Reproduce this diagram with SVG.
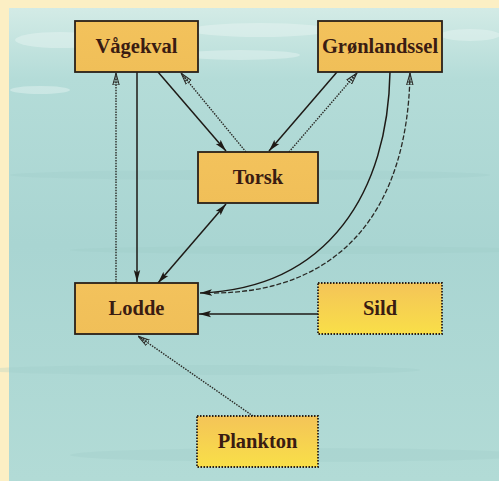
<svg xmlns="http://www.w3.org/2000/svg" width="499" height="481" viewBox="0 0 499 481">
<defs>
<linearGradient id="sea" x1="0" y1="0" x2="0" y2="1">
<stop offset="0" stop-color="#d3ebe6"/>
<stop offset="0.15" stop-color="#b4dcd8"/>
<stop offset="0.5" stop-color="#a9d5d2"/>
<stop offset="1" stop-color="#b2dbd6"/>
</linearGradient>
<linearGradient id="boxfill" x1="0" y1="0" x2="0" y2="1">
<stop offset="0" stop-color="#f3c25c"/>
<stop offset="1" stop-color="#f0bf58"/>
</linearGradient>
<linearGradient id="yelfill" x1="0" y1="0" x2="0" y2="1">
<stop offset="0" stop-color="#f4c458"/>
<stop offset="1" stop-color="#f9df48"/>
</linearGradient>
<marker id="solid" viewBox="0 0 12 8" refX="12" refY="4" markerWidth="12" markerHeight="8" markerUnits="userSpaceOnUse" orient="auto">
<path d="M0,0.8 L12,4 L0,7.2 L2.5,4 Z" fill="#1e1a16"/>
</marker>
<marker id="solidStart" viewBox="0 0 12 8" refX="0" refY="4" markerWidth="12" markerHeight="8" markerUnits="userSpaceOnUse" orient="auto">
<path d="M12,0.8 L0,4 L12,7.2 L9.5,4 Z" fill="#1e1a16"/>
</marker>
<marker id="hatch" viewBox="0 0 12 8" refX="12" refY="4" markerWidth="12" markerHeight="8" markerUnits="userSpaceOnUse" orient="auto">
<path d="M0,0.8 L12,4 L0,7.2 Z" fill="none" stroke="#2a2a26" stroke-width="1"/>
<path d="M3,1.6 L3,6.4 M6,2.4 L6,5.6 M9,3.2 L9,4.8" stroke="#2a2a26" stroke-width="1"/>
</marker>
<style>
.box{stroke:#2a2018;stroke-width:1.8}
.dotbox{stroke:#2a2018;stroke-width:1.8;stroke-dasharray:1.5 1.5}
.lbl{font-family:"Liberation Serif","DejaVu Serif",serif;font-weight:bold;font-size:20.5px;fill:#3a1c12;text-anchor:middle;dominant-baseline:central}
.s{fill:none;stroke:#1e1a16;stroke-width:1.5}
.d{fill:none;stroke:#2a2a26;stroke-width:1.4;stroke-dasharray:1.5 1.2}
.dash{fill:none;stroke:#2a2a26;stroke-width:1.3;stroke-dasharray:5 2}
</style>
</defs>
<rect x="0" y="0" width="499" height="481" fill="#fcefc4"/>
<rect x="9" y="8" width="490" height="473" fill="url(#sea)"/>
<g opacity="0.4" fill="#eef8f6">
<ellipse cx="60" cy="40" rx="45" ry="8"/>
<ellipse cx="260" cy="30" rx="70" ry="7"/>
<ellipse cx="240" cy="55" rx="60" ry="5"/>
<ellipse cx="470" cy="35" rx="30" ry="6"/>
<ellipse cx="40" cy="90" rx="30" ry="4"/>
</g>
<g opacity="0.25" fill="#9ccac6">
<ellipse cx="250" cy="175" rx="240" ry="5"/>
<ellipse cx="300" cy="250" rx="230" ry="4"/>
<ellipse cx="200" cy="370" rx="220" ry="5"/>
<ellipse cx="300" cy="455" rx="230" ry="7"/>
</g>
<g id="connectors">
<path class="s" d="M137,72 L137,282" marker-end="url(#solid)"/>
<path class="d" d="M116,283 L116,73" marker-end="url(#hatch)"/>
<path class="s" d="M158,72 L226,151" marker-end="url(#solid)"/>
<path class="d" d="M246,152 L181,73" marker-end="url(#hatch)"/>
<path class="s" d="M337,72 L269,151" marker-end="url(#solid)"/>
<path class="d" d="M289,152 L357,73" marker-end="url(#hatch)"/>
<path class="s" d="M390,72 C388,190 330,288 200,293" marker-end="url(#solid)"/>
<path class="dash" d="M214,293 C345,292 408,205 410,73" marker-end="url(#hatch)"/>
<path class="s" d="M158,283 L226,204" marker-start="url(#solidStart)" marker-end="url(#solid)"/>
<path class="s" d="M318,314 L199,314" marker-end="url(#solid)"/>
<path class="d" d="M253,416 L138,336" marker-end="url(#hatch)"/>
</g>
<g id="vagekval">
<rect class="box" x="75" y="21" width="123" height="51" fill="url(#boxfill)"/>
<text class="lbl" x="136.5" y="46">Vågekval</text>
</g>
<g id="gronlandssel">
<rect class="box" x="318" y="21" width="124" height="51" fill="url(#boxfill)"/>
<text class="lbl" x="380" y="46">Grønlandssel</text>
</g>
<g id="torsk">
<rect class="box" x="198" y="152" width="120" height="51" fill="url(#boxfill)"/>
<text class="lbl" x="258" y="177">Torsk</text>
</g>
<g id="lodde">
<rect class="box" x="75" y="283" width="123" height="51" fill="url(#boxfill)"/>
<text class="lbl" x="136.5" y="308">Lodde</text>
</g>
<g id="sild">
<rect class="dotbox" x="318" y="283" width="124" height="51" fill="url(#yelfill)"/>
<text class="lbl" x="380" y="308">Sild</text>
</g>
<g id="plankton">
<rect class="dotbox" x="197" y="416" width="121" height="51" fill="url(#yelfill)"/>
<text class="lbl" x="257.5" y="441">Plankton</text>
</g>
</svg>
